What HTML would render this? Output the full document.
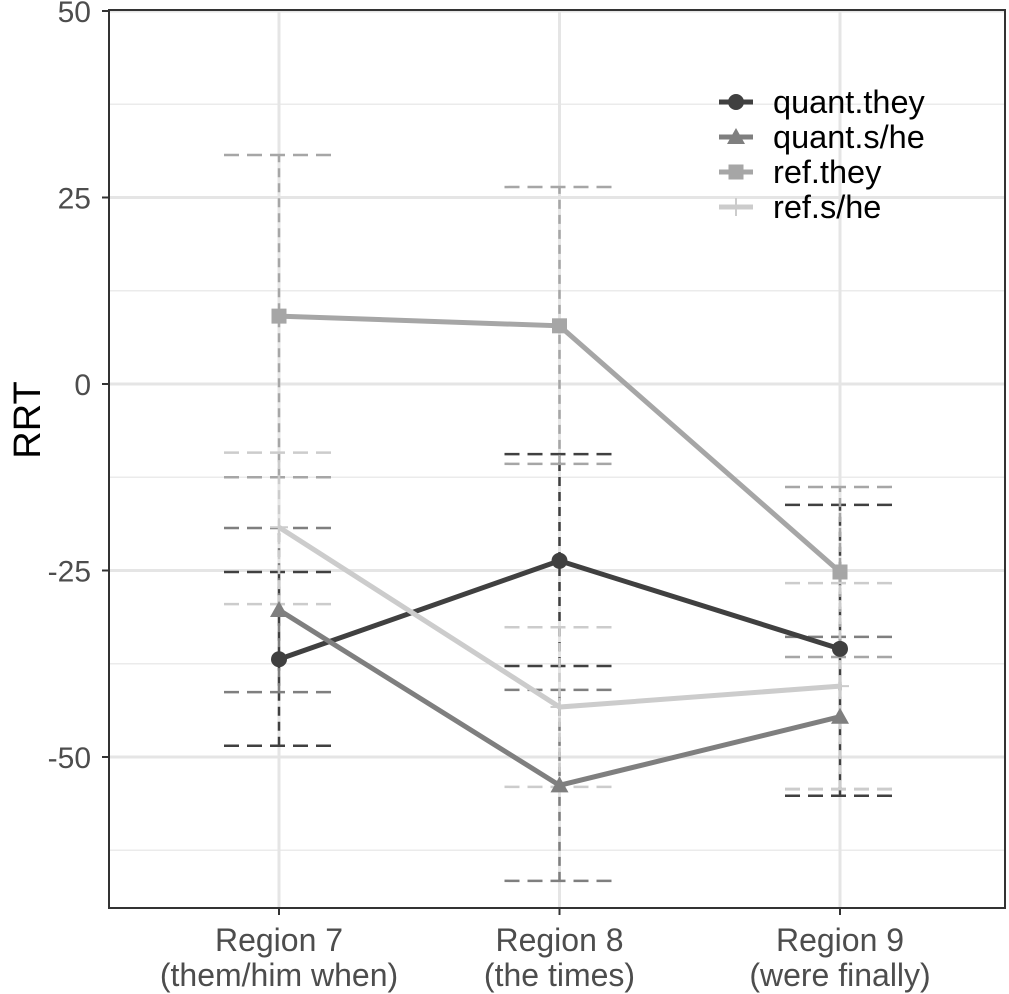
<!DOCTYPE html>
<html><head><meta charset="utf-8"><style>body{margin:0;background:#fff}svg{display:block;font-family:"Liberation Sans",sans-serif}</style></head>
<body>
<svg id="chart" width="1009" height="994" viewBox="0 0 1009 994" xmlns="http://www.w3.org/2000/svg">
<rect x="0" y="0" width="1009" height="994" fill="#fff"/>
<g id="grid"></g><g id="marks"></g><g id="axes"></g><g id="legend"></g>
</svg>
<script>
const categories=["Region 7\n(them/him when)","Region 8\n(the times)","Region 9\n(were finally)"];
const seriesNames=["quant.they","quant.s/he","ref.they","ref.s/he"];
const quantThey=[-36.9,-23.7,-35.5];
const quantShe=[-30.3,-53.8,-44.6];
const refThey=[9.1,7.8,-25.2];
const refShe=[-19.2,-43.3,-40.5];
const quantTheyLo=[-48.5,-37.8,-55.2],quantTheyHi=[-25.2,-9.4,-16.2];
const quantSheLo=[-41.3,-66.6,-54.3],quantSheHi=[-19.3,-41.0,-33.9];
const refTheyLo=[-12.5,-10.7,-36.6],refTheyHi=[30.7,26.4,-13.8];
const refSheLo=[-29.5,-54.0,-54.3],refSheHi=[-9.2,-32.6,-26.7];
const yTicks=[50,25,0,-25,-50];
const yMinor=[37.5,12.5,-12.5,-37.5,-62.5];
const NS="http://www.w3.org/2000/svg";
const L=109,R=1005,T=10,B=908;
const y=v=>384-v*7.46;
const x=i=>279+i*280.5;
function mk(p,t,a){const e=document.createElementNS(NS,t);for(const k in a)e.setAttribute(k,a[k]);p.appendChild(e);return e;}
const grid=document.getElementById('grid'),marks=document.getElementById('marks'),axes=document.getElementById('axes'),legend=document.getElementById('legend');
yMinor.forEach(v=>{const l=mk(grid,'line',{x1:L,x2:R,y1:y(v),y2:y(v),stroke:'#ebebeb','stroke-width':1.5});

});
yTicks.forEach(v=>{const l=mk(grid,'line',{x1:L,x2:R,y1:y(v),y2:y(v),stroke:'#e5e5e5','stroke-width':3});

});
categories.forEach((c,i)=>{const l=mk(grid,'line',{x1:x(i),x2:x(i),y1:T,y2:B,stroke:'#e5e5e5','stroke-width':3});

});
const series=[
 {v:quantThey,lo:quantTheyLo,hi:quantTheyHi,c:'#404040',shape:'circle'},
 {v:quantShe,lo:quantSheLo,hi:quantSheHi,c:'#7f7f7f',shape:'tri'},
 {v:refThey,lo:refTheyLo,hi:refTheyHi,c:'#a6a6a6',shape:'square'},
 {v:refShe,lo:refSheLo,hi:refSheHi,c:'#cccccc',shape:'plus'}];
series.forEach((s,si)=>{s.v.forEach((v,i)=>{
 const g=mk(marks,'g',{});
 
 
 mk(g,'line',{x1:x(i),x2:x(i),y1:y(s.lo[i]),y2:y(s.hi[i]),stroke:s.c,'stroke-width':2.5,'stroke-dasharray':'9 6'});
 [s.lo[i],s.hi[i]].forEach(w=>mk(g,'line',{x1:x(i)-55,x2:x(i)+55,y1:y(w),y2:y(w),stroke:s.c,'stroke-width':2.5,'stroke-dasharray':'15 8'}));
});});
function shape(p,sh,cx,cy,c){
 if(sh==='circle')return mk(p,'circle',{cx,cy,r:8,fill:c});
 if(sh==='tri')return mk(p,'polygon',{points:`${cx},${cy-9} ${cx-9},${cy+7} ${cx+9},${cy+7}`,fill:c});
 if(sh==='square')return mk(p,'rect',{x:cx-7.5,y:cy-7.5,width:15,height:15,fill:c});
 const g=mk(p,'g',{});mk(g,'line',{x1:cx-9,x2:cx+9,y1:cy,y2:cy,stroke:c,'stroke-width':2});mk(g,'line',{x1:cx,x2:cx,y1:cy-9,y2:cy+9,stroke:c,'stroke-width':2});return g;}
series.forEach((s,si)=>{
 const pl=mk(marks,'polyline',{points:s.v.map((v,i)=>x(i)+','+y(v)).join(' '),fill:'none',stroke:s.c,'stroke-width':5});
 
 
 s.v.forEach((v,i)=>{const m=shape(marks,s.shape,x(i),y(v),s.c);
 
 });
});
const fr=mk(axes,'rect',{x:L,y:T,width:R-L,height:B-T,fill:'none',stroke:'#333','stroke-width':2});


yTicks.forEach(v=>{mk(axes,'line',{x1:L-7,x2:L,y1:y(v),y2:y(v),stroke:'#333','stroke-width':2});
 const t=mk(axes,'text',{x:L-18,y:y(v)+11,'text-anchor':'end','font-size':30,fill:'#4d4d4d'});t.textContent=v;
 
 });
categories.forEach((c,i)=>{mk(axes,'line',{x1:x(i),x2:x(i),y1:B,y2:B+7,stroke:'#333','stroke-width':2});
 c.split('\n').forEach((ln,k)=>{const t=mk(axes,'text',{x:x(i),y:951+k*35,'text-anchor':'middle','font-size':32,fill:'#4d4d4d'});t.textContent=ln;
 
 });});
const yt=mk(axes,'text',{x:0,y:0,transform:'translate(40,420) rotate(-90)','text-anchor':'middle','font-size':38,fill:'#000'});yt.textContent='RRT';


series.forEach((s,si)=>{const cy=102+si*35;const g=mk(legend,'g',{});
 
 
 mk(g,'line',{x1:719,x2:753,y1:cy,y2:cy,stroke:s.c,'stroke-width':5});shape(g,s.shape,736,cy,s.c);
 const t=mk(g,'text',{x:773,y:cy+11,'font-size':32.5,fill:'#000'});t.textContent=seriesNames[si];});
</script>
</body></html>
